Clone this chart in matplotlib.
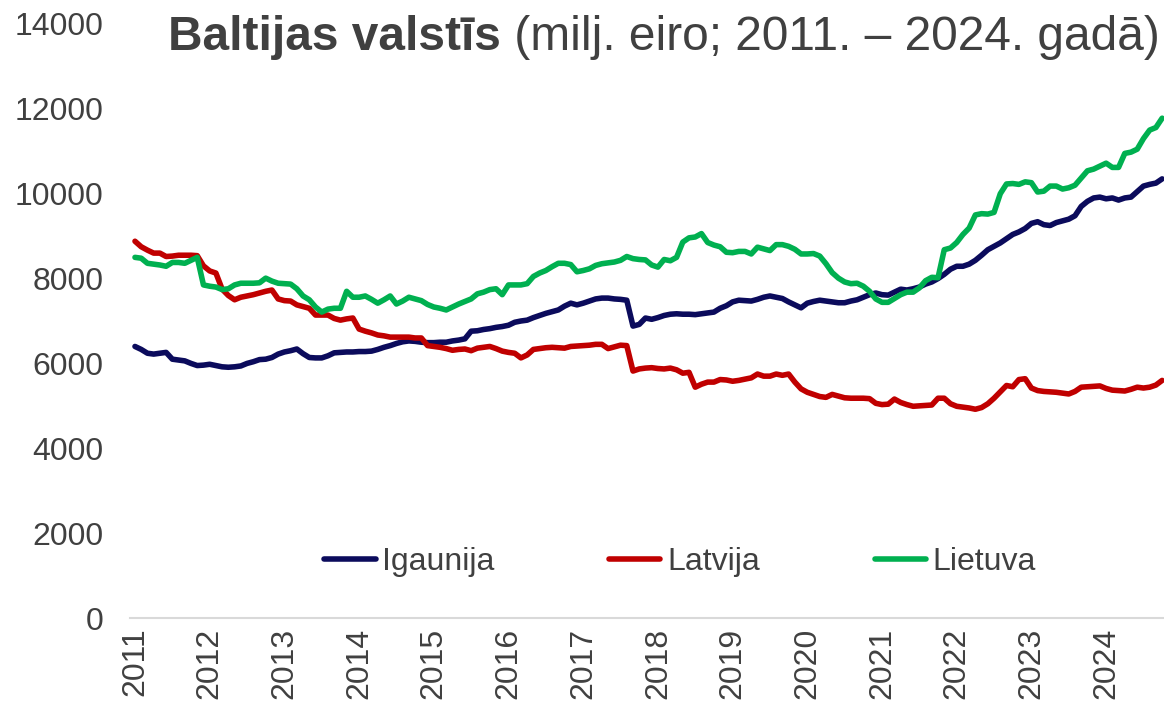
import numpy as np
import matplotlib
matplotlib.use("Agg")
import matplotlib.pyplot as plt

# Baltic states, monthly values (milj. eiro), Jan 2011 .. Oct 2024

years = ["2011", "2012", "2013", "2014", "2015", "2016", "2017",
         "2018", "2019", "2020", "2021", "2022", "2023", "2024"]

igaunija = [
    6400, 6330, 6240, 6220, 6240, 6260, 6100, 6080, 6060, 6000, 5950, 5960,   # 2011
    5980, 5950, 5920, 5910, 5920, 5940, 6000, 6040, 6090, 6100, 6140, 6220,   # 2012
    6270, 6300, 6340, 6230, 6140, 6130, 6130, 6180, 6250, 6260, 6270, 6270,   # 2013
    6280, 6280, 6290, 6330, 6380, 6420, 6470, 6510, 6530, 6520, 6500, 6490,   # 2014
    6490, 6500, 6500, 6530, 6550, 6580, 6760, 6770, 6800, 6820, 6850, 6870,   # 2015
    6900, 6970, 7000, 7020, 7080, 7130, 7180, 7220, 7260, 7350, 7420, 7380,   # 2016
    7420, 7470, 7520, 7540, 7540, 7520, 7510, 7490, 6880, 6920, 7070, 7040,   # 2017
    7080, 7130, 7160, 7170, 7160, 7160, 7150, 7170, 7190, 7210, 7300, 7360,   # 2018
    7450, 7490, 7480, 7470, 7510, 7560, 7590, 7560, 7530, 7450, 7380, 7310,   # 2019
    7420, 7460, 7490, 7470, 7450, 7430, 7430, 7470, 7500, 7560, 7620, 7660,   # 2020
    7620, 7610, 7680, 7750, 7730, 7760, 7800, 7870, 7920, 8000, 8100, 8220,   # 2021
    8290, 8290, 8340, 8430, 8550, 8680, 8760, 8840, 8940, 9040, 9100, 9180,   # 2022
    9300, 9340, 9270, 9250, 9320, 9360, 9400, 9480, 9700, 9820, 9900, 9920,   # 2023
    9880, 9900, 9850, 9900, 9920, 10050, 10180, 10220, 10250, 10350,          # 2024
]

latvija = [
    8880, 8750, 8670, 8600, 8600, 8520, 8530, 8550, 8550, 8550, 8540, 8300,
    8180, 8130, 7750, 7600, 7500, 7560, 7590, 7620, 7660, 7700, 7730, 7520,
    7480, 7470, 7380, 7340, 7300, 7140, 7140, 7140, 7060, 7020, 7050, 7070,
    6810, 6760, 6720, 6670, 6650, 6620, 6620, 6620, 6620, 6600, 6600, 6420,
    6400, 6380, 6350, 6310, 6330, 6340, 6300, 6360, 6380, 6400, 6350, 6290,
    6260, 6240, 6130, 6200, 6330, 6350, 6370, 6380, 6370, 6360, 6400, 6410,
    6420, 6430, 6450, 6450, 6350, 6390, 6430, 6420, 5820, 5870, 5890, 5900,
    5880, 5870, 5890, 5850, 5770, 5790, 5440, 5510, 5560, 5560, 5620, 5610,
    5580, 5600, 5630, 5660, 5750, 5700, 5700, 5750, 5720, 5750, 5560, 5400,
    5320, 5270, 5220, 5200, 5270, 5230, 5190, 5180, 5180, 5180, 5170, 5060,
    5030, 5040, 5160, 5080, 5030, 4990, 5000, 5010, 5020, 5180, 5180, 5050,
    4990, 4970, 4950, 4920, 4960, 5050, 5180, 5330, 5480, 5450, 5620, 5640,
    5420, 5360, 5340, 5330, 5320, 5300, 5280, 5340, 5440, 5450, 5460, 5470,
    5410, 5370, 5360, 5350, 5390, 5440, 5420, 5440, 5490, 5600,
]

lietuva = [
    8500, 8480, 8360, 8340, 8320, 8290, 8380, 8380, 8360, 8430, 8500, 7850,
    7820, 7800, 7740, 7760, 7850, 7890, 7890, 7890, 7900, 8010, 7940, 7890,
    7880, 7870, 7760, 7590, 7500, 7330, 7210, 7280, 7300, 7300, 7700, 7560,
    7560, 7590, 7510, 7420, 7500, 7590, 7400, 7470, 7560, 7520, 7480, 7390,
    7330, 7300, 7260, 7330, 7400, 7460, 7520, 7640, 7680, 7740, 7760, 7620,
    7850, 7850, 7850, 7880, 8050, 8130, 8190, 8280, 8360, 8360, 8330, 8160,
    8190, 8230, 8310, 8350, 8370, 8390, 8430, 8520, 8470, 8450, 8440, 8320,
    8270, 8450, 8420, 8500, 8860, 8960, 8980, 9060, 8850, 8790, 8750, 8620,
    8610, 8640, 8640, 8580, 8740, 8700, 8660, 8800, 8800, 8760, 8690, 8580,
    8580, 8590, 8530, 8350, 8140, 8010, 7920, 7880, 7890, 7820, 7700, 7520,
    7440, 7440, 7530, 7620, 7680, 7680, 7780, 7950, 8030, 8020, 8680, 8720,
    8850, 9040, 9190, 9500, 9530, 9520, 9560, 10000, 10230, 10240, 10220, 10280,
    10260, 10040, 10060, 10180, 10180, 10110, 10140, 10200, 10370, 10540, 10580, 10650,
    10720, 10620, 10620, 10950, 10980, 11050, 11300, 11500, 11560, 11780,
]

series_names = ["Igaunija", "Latvija", "Lietuva"]
colors = ["#0b0b5c", "#c00000", "#00b050"]
text_col = "#404040"

plt.rcParams["font.family"] = ["Liberation Sans", "DejaVu Sans"]

fig = plt.figure(figsize=(11.64, 7.08), dpi=100)
ax = fig.add_axes([130 / 1164, 1 - 618 / 708, 1 - 130 / 1164, (618 - 24) / 708])

months = np.arange(len(igaunija))
for vals, name, c in zip([igaunija, latvija, lietuva], series_names, colors):
    ax.plot(months, vals, color=c, linewidth=4.0, label=name,
            solid_joinstyle="round", solid_capstyle="round")

ax.set_xlim(-0.8, 165.3)
ax.set_ylim(0, 14000)

ax.set_yticks(np.arange(0, 14001, 2000))
ax.set_yticklabels([str(v) for v in range(0, 14001, 2000)])
ax.set_xticks(np.arange(len(years)) * 12)
ax.set_xticklabels(years, rotation=90)

ax.tick_params(axis="y", length=0, pad=19, labelsize=23, labelcolor=text_col)
ax.tick_params(axis="x", length=0, pad=7, labelsize=23, labelcolor=text_col)

for s in ["top", "right", "left"]:
    ax.spines[s].set_visible(False)
ax.spines["bottom"].set_color("#d9d9d9")
ax.spines["bottom"].set_linewidth(1.5)

leg = fig.legend(loc="center", bbox_to_anchor=(680 / 1164, 1 - 562 / 708),
                 ncol=3, frameon=False, fontsize=23, handlelength=1.6,
                 handletextpad=0.2, columnspacing=3.6)
for t in leg.get_texts():
    t.set_color(text_col)

# title: bold part + normal part
t1 = fig.text(168 / 1164, 1 - 38 / 708, "Baltijas valstīs", fontsize=34.5,
              fontweight="bold", color=text_col, va="center", ha="left")
fig.canvas.draw()
bb = t1.get_window_extent()
fig.text(bb.x1 / fig.bbox.width, 1 - 38 / 708, " (milj. eiro; 2011. \u2013 2024. gadā)",
         fontsize=34.5, color=text_col, va="center", ha="left")

fig.savefig("out.png", dpi=100)
